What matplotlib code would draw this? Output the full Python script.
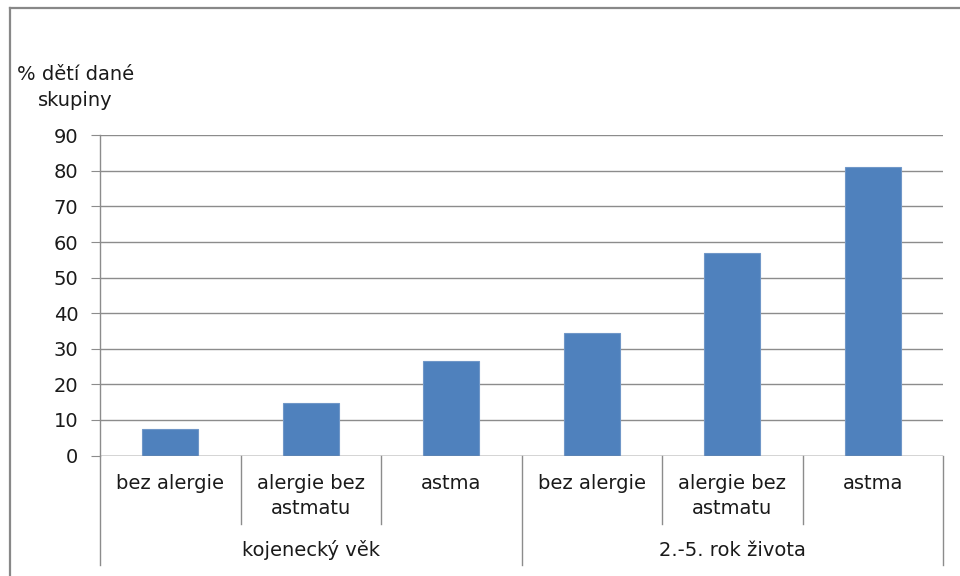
import matplotlib.pyplot as plt
import matplotlib.transforms as mtransforms
from matplotlib.lines import Line2D

categories = ["bez alergie", "alergie bez\nastmatu", "astma",
              "bez alergie", "alergie bez\nastmatu", "astma"]
groups = ["kojenecký věk", "2.-5. rok života"]
values = [7.5, 14.7, 26.5, 34.3, 56.8, 81.0]
yticks = [0, 10, 20, 30, 40, 50, 60, 70, 80, 90]

plt.rcParams['font.family'] = ['DejaVu Sans']
txt = '#1a1a1a'
grid = '#8c8c8c'
fs = 14

fig = plt.figure(figsize=(9.6, 5.76), dpi=100)
ax = fig.add_axes([100/960, 1 - 455.5/576, 843/960, 320.2/576])

x = list(range(len(values)))
ax.bar(x, values, width=0.4, color='#4F81BD', edgecolor='#7097c8', linewidth=0.8, zorder=3)

ax.set_xlim(-0.5, len(values) - 0.5)
ax.set_ylim(0, 90)
ax.set_yticks(yticks)
ax.set_yticklabels([str(v) for v in yticks], fontsize=fs, color=txt)
ax.tick_params(axis='y', length=6.5, width=0.8, color=grid, pad=9)
ax.set_xticks([])
ax.yaxis.grid(True, color=grid, linewidth=1.0)
ax.set_axisbelow(True)
for side in ['top', 'right', 'bottom']:
    ax.spines[side].set_visible(False)
ax.spines['left'].set_color(grid)
ax.spines['left'].set_linewidth(1.0)
ax.axhline(0, color=grid, linewidth=1.0, zorder=4)

# two-level category axis below the plot
trans = mtransforms.blended_transform_factory(ax.transData, ax.transAxes)
short_y = -(524 - 455.5) / 320.2
long_y = -(565 - 455.5) / 320.2
for b in [-0.5, 0.5, 1.5, 2.5, 3.5, 4.5, 5.5]:
    low = long_y if b in (-0.5, 2.5, 5.5) else short_y
    ax.add_artist(Line2D([b, b], [0, low], transform=trans, color=grid,
                         linewidth=1.0, clip_on=False))
for i, c in enumerate(categories):
    ax.text(i, -(474 - 455.5) / 320.2, c, transform=trans, ha='center', va='top',
            fontsize=fs, color=txt, linespacing=1.42)
for j, g in enumerate(groups):
    ax.text(1 + 3 * j, -(550 - 455.5) / 320.2, g, transform=trans, ha='center',
            va='center', fontsize=fs, color=txt)

fig.text(75.5/960, 1 - 87.5/576, "% dětí dané\nskupiny", ha='center', va='center',
         fontsize=fs, color=txt, linespacing=1.42)

# chart frame
fig.add_artist(Line2D([10/960, 10/960], [0, 1 - 8/576], color='#888888', linewidth=1.6))
fig.add_artist(Line2D([10/960, 1], [1 - 8/576, 1 - 8/576], color='#888888', linewidth=1.6))

fig.savefig('out.png', dpi=100)
